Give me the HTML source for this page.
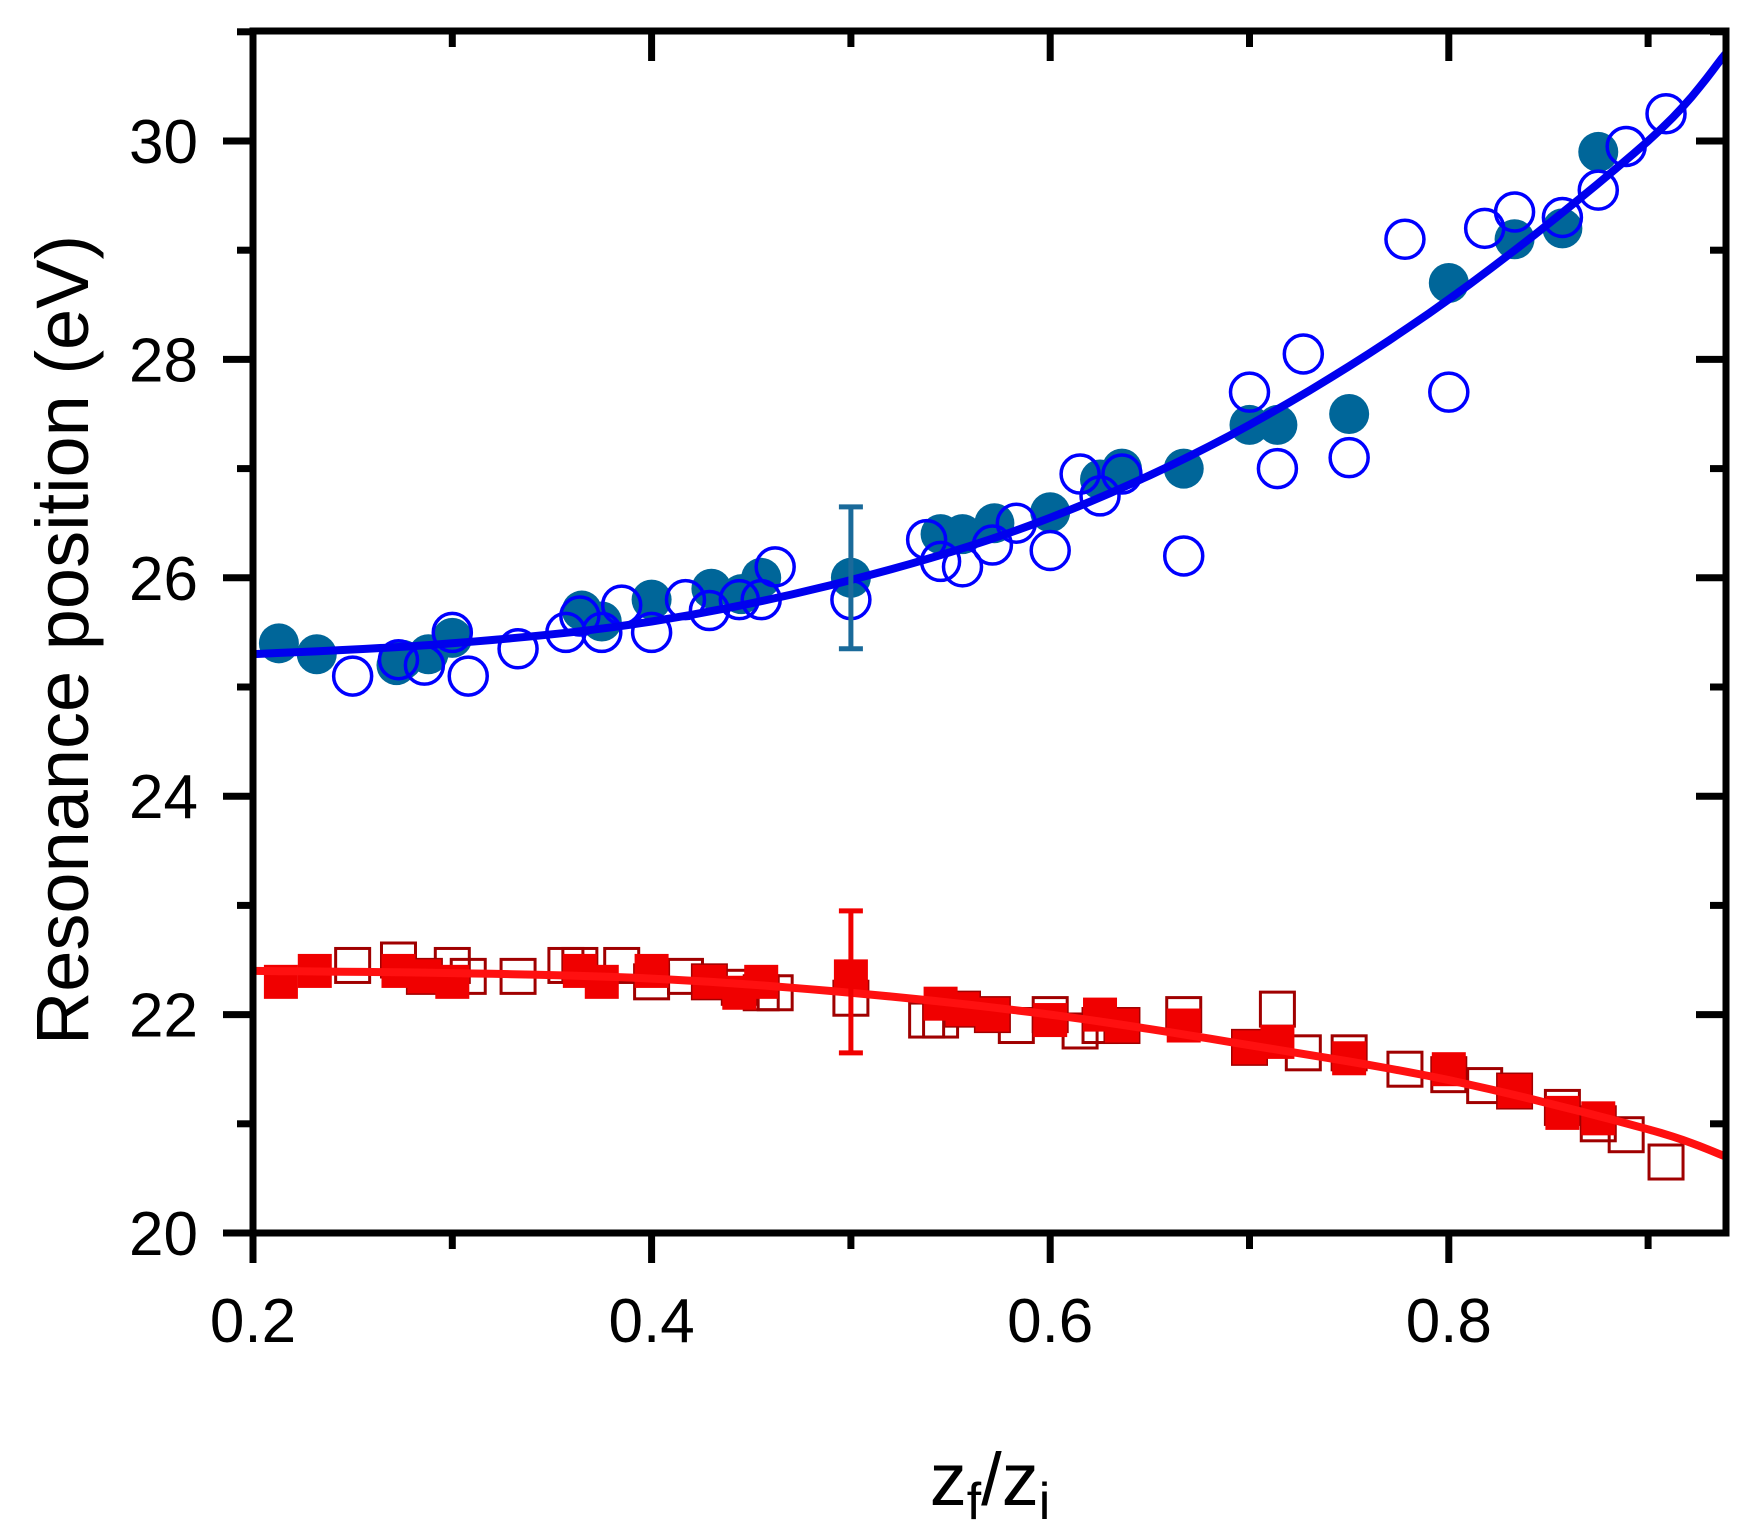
<!DOCTYPE html>
<html><head><meta charset="utf-8"><style>
html,body{margin:0;padding:0;background:#fff;}
svg{display:block;font-family:"Liberation Sans",sans-serif;}
</style></head><body>
<svg id="s" width="1762" height="1536" viewBox="0 0 1762 1536" xmlns="http://www.w3.org/2000/svg">
<g id="data"></g>
<g id="axes" stroke="#000" stroke-width="7" fill="none">
<rect x="253" y="31" width="1473" height="1202"/>
</g>
<g id="ticks" stroke="#000" stroke-width="7"></g>
<g font-size="62" fill="#000" id="labels"></g>
<text x="0" y="0" font-size="74" transform="translate(88,640) rotate(-90)" text-anchor="middle">Resonance position (eV)</text>
<text x="990" y="1505" font-size="74" text-anchor="middle">z<tspan font-size="52" dy="14">f</tspan><tspan dy="-14">/z</tspan><tspan font-size="52" dy="14">i</tspan></text>
</svg>
<script>
var NS="http://www.w3.org/2000/svg";
function X(v){return 253+(v-0.2)*1993;}
function Y(v){return 1233-(v-20)*109.2;}
function el(p,t,a,txt){var e=document.createElementNS(NS,t);for(var k in a)e.setAttribute(k,a[k]);if(txt!==undefined)e.textContent=txt;p.appendChild(e);return e;}
var T=document.getElementById('ticks'),L=document.getElementById('labels'),D=document.getElementById('data');
for(var i=2;i<=9;i++){var v=i/10,x=X(v),maj=(i%2==0);var len=maj?30:16;
 el(T,'line',{x1:x,y1:1233,x2:x,y2:1233+len});el(T,'line',{x1:x,y1:31,x2:x,y2:31+len});
 if(maj)el(L,'text',{x:x,y:1342,'text-anchor':'middle'},v.toFixed(1));}
for(var j=20;j<=31;j++){var y=Y(j),maj=(j%2==0);var len=maj?30:16;
 el(T,'line',{x1:253,y1:y,x2:253-len,y2:y});el(T,'line',{x1:1726,y1:y,x2:1726-len,y2:y});
 if(maj)el(L,'text',{x:198,y:y+22,'text-anchor':'end'},String(j));}
function curve(pts,col){var d='';var n=pts.length;
 for(var k=0;k<n-1;k++){var p0=pts[Math.max(k-1,0)],p1=pts[k],p2=pts[k+1],p3=pts[Math.min(k+2,n-1)];
  for(var s=0;s<=10;s++){var t=s/10,t2=t*t,t3=t2*t;
   var fx=0.5*((2*p1[0])+(-p0[0]+p2[0])*t+(2*p0[0]-5*p1[0]+4*p2[0]-p3[0])*t2+(-p0[0]+3*p1[0]-3*p2[0]+p3[0])*t3);
   var fy=0.5*((2*p1[1])+(-p0[1]+p2[1])*t+(2*p0[1]-5*p1[1]+4*p2[1]-p3[1])*t2+(-p0[1]+3*p1[1]-3*p2[1]+p3[1])*t3);
   d+=(d?'L':'M')+X(fx).toFixed(1)+' '+Y(fy).toFixed(1);}}
 el(D,'path',{d:d,stroke:col,'stroke-width':8,fill:'none'});}
var fc=[[0.213,25.4],[0.232,25.3],[0.272,25.2],[0.275,25.25],[0.288,25.3],[0.3,25.45],[0.365,25.7],[0.375,25.6],[0.4,25.8],[0.43,25.9],[0.445,25.85],[0.455,26.0],[0.5,26.0],[0.545,26.4],[0.556,26.4],[0.572,26.5],[0.6,26.6],[0.625,26.9],[0.636,27.0],[0.667,27.0],[0.7,27.4],[0.714,27.4],[0.75,27.5],[0.8,28.7],[0.833,29.1],[0.857,29.2],[0.875,29.9]];
var oc=[[0.25,25.1],[0.273,25.25],[0.286,25.2],[0.3,25.5],[0.308,25.1],[0.333,25.35],[0.357,25.5],[0.364,25.65],[0.375,25.5],[0.385,25.75],[0.4,25.5],[0.417,25.8],[0.429,25.7],[0.444,25.8],[0.455,25.8],[0.462,26.1],[0.5,25.8],[0.538,26.35],[0.545,26.15],[0.556,26.1],[0.571,26.3],[0.583,26.5],[0.6,26.25],[0.615,26.95],[0.625,26.75],[0.636,26.95],[0.667,26.2],[0.7,27.7],[0.714,27.0],[0.727,28.05],[0.75,27.1],[0.778,29.1],[0.8,27.7],[0.818,29.2],[0.833,29.35],[0.857,29.3],[0.875,29.55],[0.889,29.95],[0.909,30.25]];
var fs=[[0.214,22.3],[0.231,22.4],[0.273,22.4],[0.286,22.35],[0.3,22.3],[0.364,22.4],[0.375,22.3],[0.4,22.4],[0.429,22.3],[0.444,22.2],[0.455,22.3],[0.5,22.35],[0.545,22.1],[0.556,22.05],[0.571,22.0],[0.6,21.95],[0.625,22.0],[0.636,21.9],[0.667,21.9],[0.7,21.7],[0.714,21.75],[0.75,21.6],[0.8,21.5],[0.833,21.3],[0.857,21.1],[0.875,21.05]];
var os=[[0.25,22.45],[0.273,22.5],[0.286,22.35],[0.3,22.45],[0.308,22.35],[0.333,22.35],[0.357,22.45],[0.364,22.45],[0.385,22.45],[0.4,22.3],[0.417,22.35],[0.429,22.3],[0.444,22.25],[0.455,22.2],[0.462,22.2],[0.5,22.15],[0.538,21.95],[0.545,21.95],[0.556,22.05],[0.571,22.0],[0.583,21.9],[0.6,22.0],[0.615,21.85],[0.625,21.9],[0.636,21.9],[0.667,22.0],[0.7,21.7],[0.714,22.05],[0.727,21.65],[0.75,21.65],[0.778,21.5],[0.8,21.45],[0.818,21.35],[0.833,21.3],[0.857,21.15],[0.875,21.0],[0.889,20.9],[0.909,20.65]];
os.forEach(function(p){el(D,'rect',{x:X(p[0])-17,y:Y(p[1])-17,width:34,height:34,fill:'none',stroke:'#a00000','stroke-width':3});});
fs.forEach(function(p){el(D,'rect',{x:X(p[0])-17,y:Y(p[1])-17,width:34,height:34,fill:'#f00000'});});
curve([[0.2,22.4],[0.3,22.38],[0.4,22.33],[0.5,22.2],[0.6,22.0],[0.7,21.72],[0.8,21.4],[0.9,20.95],[0.939,20.7]],'#ff1010');
el(D,'path',{d:'M'+(X(0.5)-12)+' '+Y(22.95)+'h24M'+X(0.5)+' '+Y(22.95)+'V'+Y(21.65)+'M'+(X(0.5)-12)+' '+Y(21.65)+'h24',stroke:'#f00000','stroke-width':5,fill:'none'});
fc.forEach(function(p){el(D,'circle',{cx:X(p[0]),cy:Y(p[1]),r:20,fill:'#006699'});});
oc.forEach(function(p){el(D,'circle',{cx:X(p[0]),cy:Y(p[1]),r:19,fill:'none',stroke:'#0000ff','stroke-width':3.5});});
curve([[0.2,25.3],[0.3,25.4],[0.4,25.6],[0.5,25.98],[0.6,26.55],[0.7,27.4],[0.8,28.55],[0.9,30.0],[0.939,30.8]],'#0000ee');
el(D,'path',{d:'M'+(X(0.5)-12)+' '+Y(26.65)+'h24M'+X(0.5)+' '+Y(26.65)+'V'+Y(25.35)+'M'+(X(0.5)-12)+' '+Y(25.35)+'h24',stroke:'#1a6a9a','stroke-width':5,fill:'none'});
</script>
</body></html>
